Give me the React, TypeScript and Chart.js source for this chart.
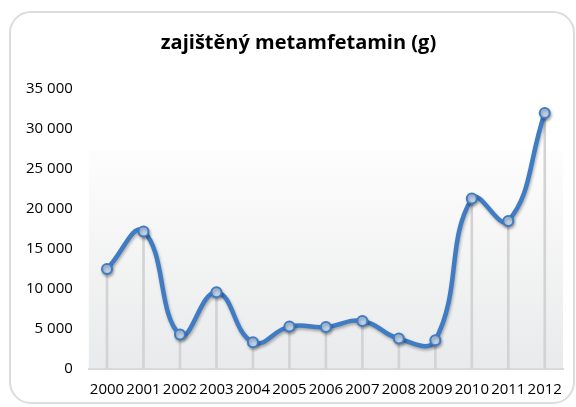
import React, { useEffect, useRef } from "react";
import { Chart, registerables } from "chart.js";

Chart.register(...registerables);

const years = ["2000", "2001", "2002", "2003", "2004", "2005", "2006", "2007", "2008", "2009", "2010", "2011", "2012"];
const seized = [12500, 17200, 4300, 9600, 3350, 5300, 5250, 6000, 3800, 3600, 21300, 18500, 32000];
const yTickValues = [0, 5000, 10000, 15000, 20000, 25000, 30000, 35000];
const titleText = "zajištěný metamfetamin (g)";

const fmt = (v: number) => String(v).replace(/\B(?=(\d{3})+(?!\d))/g, " ");

const plotBg = {
  id: "plotBg",
  beforeDraw(chart: any) {
    const { ctx, chartArea } = chart;
    if (!chartArea) return;
    const top = chartArea.top + (chartArea.bottom - chartArea.top) * 0.22;
    const g = ctx.createLinearGradient(0, top, 0, chartArea.bottom);
    g.addColorStop(0, "#fdfdfd");
    g.addColorStop(1, "#e9eaeb");
    ctx.save();
    ctx.fillStyle = g;
    ctx.fillRect(chartArea.left, top, chartArea.right - chartArea.left, chartArea.bottom - top);
    ctx.restore();
  },
};

const titleShift = {
  id: "titleShift",
  afterLayout(chart: any) {
    const t = chart.titleBlock;
    if (t) {
      t.left += 24;
      t.top -= 2;
      t.bottom -= 2;
    }
  },
};

const lineShadow = {
  id: "lineShadow",
  beforeDatasetDraw(chart: any, args: any) {
    if (args.index !== 1) return;
    const ctx = chart.ctx;
    ctx.save();
    ctx.shadowColor = "rgba(0,0,0,0.3)";
    ctx.shadowBlur = 3;
    ctx.shadowOffsetX = 1;
    ctx.shadowOffsetY = 2;
  },
  afterDatasetDraw(chart: any, args: any) {
    if (args.index !== 1) return;
    chart.ctx.restore();
  },
};

export default function App() {
  const ref = useRef<HTMLCanvasElement | null>(null);
  useEffect(() => {
    if (!ref.current) return;
    const chart = new Chart(ref.current, {
      type: "bar",
      data: {
        labels: years,
        datasets: [
          {
            type: "bar",
            data: seized,
            backgroundColor: "#d3d3d3",
            barThickness: 2,
            order: 2,
          } as any,
          {
            type: "line",
            data: seized,
            borderColor: "#3F7CC4",
            borderWidth: 4.5,
            tension: 0.45,
            pointRadius: 5,
            pointBackgroundColor: "#bcd0e8",
            pointBorderColor: "#3F7CC4",
            pointBorderWidth: 2,
            fill: false,
            order: 1,
          } as any,
        ],
      },
      options: {
        animation: false,
        responsive: false,
        layout: { padding: { left: 10, right: 13, top: 27, bottom: -4 } },
        plugins: {
          legend: { display: false },
          tooltip: { enabled: false },
          title: {
            display: true,
            text: titleText,
            color: "#000",
            font: { family: "Open Sans", size: 20, weight: "bold" },
            padding: { top: 6, bottom: 32 },
          },
        },
        scales: {
          x: {
            offset: true,
            grid: { display: false, drawTicks: false },
            border: { display: true, color: "#d9d9d9", width: 2 },
            ticks: { color: "#000", font: { family: "Open Sans", size: 15 }, padding: 12, maxRotation: 0, autoSkip: false },
          },
          y: {
            min: 0,
            max: 35000,
            afterBuildTicks: (axis: any) => {
              axis.ticks = yTickValues.map((v) => ({ value: v }));
            },
            grid: { display: false, drawTicks: false },
            border: { display: false },
            ticks: {
              color: "#000",
              font: { family: "Open Sans", size: 15 },
              padding: 16,
              callback: (v: any) => fmt(Number(v)),
            },
          },
        },
      },
      plugins: [plotBg, titleShift, lineShadow],
    });
    return () => chart.destroy();
  }, []);
  return (
    <div style={{ position: "absolute", left: 0, top: 0, width: 576, height: 407, background: "#fff" }}>
      <div
        style={{
          position: "absolute",
          left: 9,
          top: 11,
          width: 566,
          height: 393,
          border: "2px solid #dcdcdc",
          borderRadius: 22,
          boxSizing: "border-box",
        }}
      />
      <canvas ref={ref} width={576} height={407} style={{ position: "absolute", left: 0, top: 0 }} />
    </div>
  );
}
